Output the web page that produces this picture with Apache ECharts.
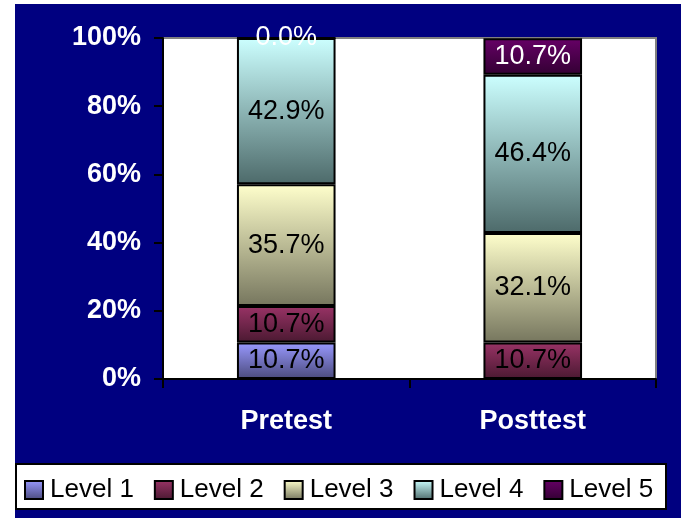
<!DOCTYPE html>
<html>
<head>
<meta charset="utf-8">
<script src="https://cdn.jsdelivr.net/npm/echarts@6/dist/echarts.min.js"></script>
<style>
  html, body { margin: 0; padding: 0; background: #ffffff; }
  #chart { width: 681px; height: 518px; }
</style>
</head>
<body>
<div id="chart"></div>
<script>
// Test phases on the category axis
const categories = ['Pretest', 'Posttest'];

// Share of students (%) at each level, per phase
const level1 = [10.7, null];
const level2 = [10.7, 10.7];
const level3 = [35.7, 32.1];
const level4 = [42.9, 46.4];
const level5 = [0.0, 10.7];

const seriesNames = ['Level 1', 'Level 2', 'Level 3', 'Level 4', 'Level 5'];
const seriesValues = [level1, level2, level3, level4, level5];

// Y tick values (percent)
const yTicks = [0, 20, 40, 60, 80, 100];

const FONT = '"Liberation Sans", Arial, sans-serif';

// top / bottom colours of each segment's vertical gradient
const gradients = [
  ['#9999ff', '#4a4a7c'],
  ['#993366', '#4a1931'],
  ['#ffffcc', '#76765e'],
  ['#ccffff', '#4d6a6a'],
  ['#660066', '#330033']
];
const labelColors = ['#000000', '#000000', '#000000', '#000000', '#ffffff'];

function grad(c) {
  return new echarts.graphic.LinearGradient(0, 0, 0, 1, [
    { offset: 0, color: c[0] },
    { offset: 1, color: c[1] }
  ]);
}

const chart = echarts.init(document.getElementById('chart'), null, { renderer: 'canvas' });

const series = seriesNames.map((name, i) => ({
  name: name,
  type: 'bar',
  stack: 'total',
  barWidth: '40%',
  data: seriesValues[i],
  itemStyle: {
    color: grad(gradients[i]),
    borderColor: '#000000',
    borderWidth: 2
  },
  label: {
    show: true,
    position: 'inside',
    color: labelColors[i],
    fontFamily: FONT,
    fontSize: 27,
    formatter: p => (p.value == null ? '' : p.value.toFixed(1) + '%')
  },
  emphasis: { disabled: true }
}));

chart.setOption({
  animation: false,
  backgroundColor: '#ffffff',
  graphic: [
    {
      type: 'rect', z: -10, silent: true,
      shape: { x: 15, y: 4, width: 666, height: 514 },
      style: { fill: '#000080' }
    },
    {
      type: 'rect', z: -5, silent: true,
      shape: { x: 16, y: 464, width: 650, height: 45 },
      style: { fill: '#ffffff', stroke: '#000000', lineWidth: 2 }
    }
  ],
  grid: {
    left: 163, right: 25, top: 38, bottom: 139,
    show: true,
    backgroundColor: '#ffffff',
    borderColor: '#808080',
    borderWidth: 2
  },
  legend: {
    data: seriesNames,
    left: 19,
    top: 472,
    itemWidth: 18,
    itemHeight: 18,
    itemGap: 20,
    icon: 'rect',
    textStyle: { color: '#000000', fontFamily: FONT, fontSize: 26, padding: [0, 0, 0, 2] }
  },
  xAxis: {
    type: 'category',
    data: categories,
    axisLine: { show: true, lineStyle: { color: '#000000', width: 2 } },
    axisTick: { show: true, length: 9, lineStyle: { color: '#000000', width: 2 } },
    axisLabel: { color: '#ffffff', fontFamily: FONT, fontWeight: 'bold', fontSize: 27, margin: 29 }
  },
  yAxis: {
    type: 'value',
    min: yTicks[0],
    max: yTicks[yTicks.length - 1],
    interval: yTicks[1] - yTicks[0],
    splitLine: { show: false },
    axisLine: { show: true, lineStyle: { color: '#000000', width: 2 } },
    axisTick: { show: true, length: 9, lineStyle: { color: '#000000', width: 2 } },
    axisLabel: {
      color: '#ffffff', fontFamily: FONT, fontWeight: 'bold', fontSize: 27, margin: 22,
      formatter: '{value}%'
    }
  },
  series: series
});
</script>
</body>
</html>
